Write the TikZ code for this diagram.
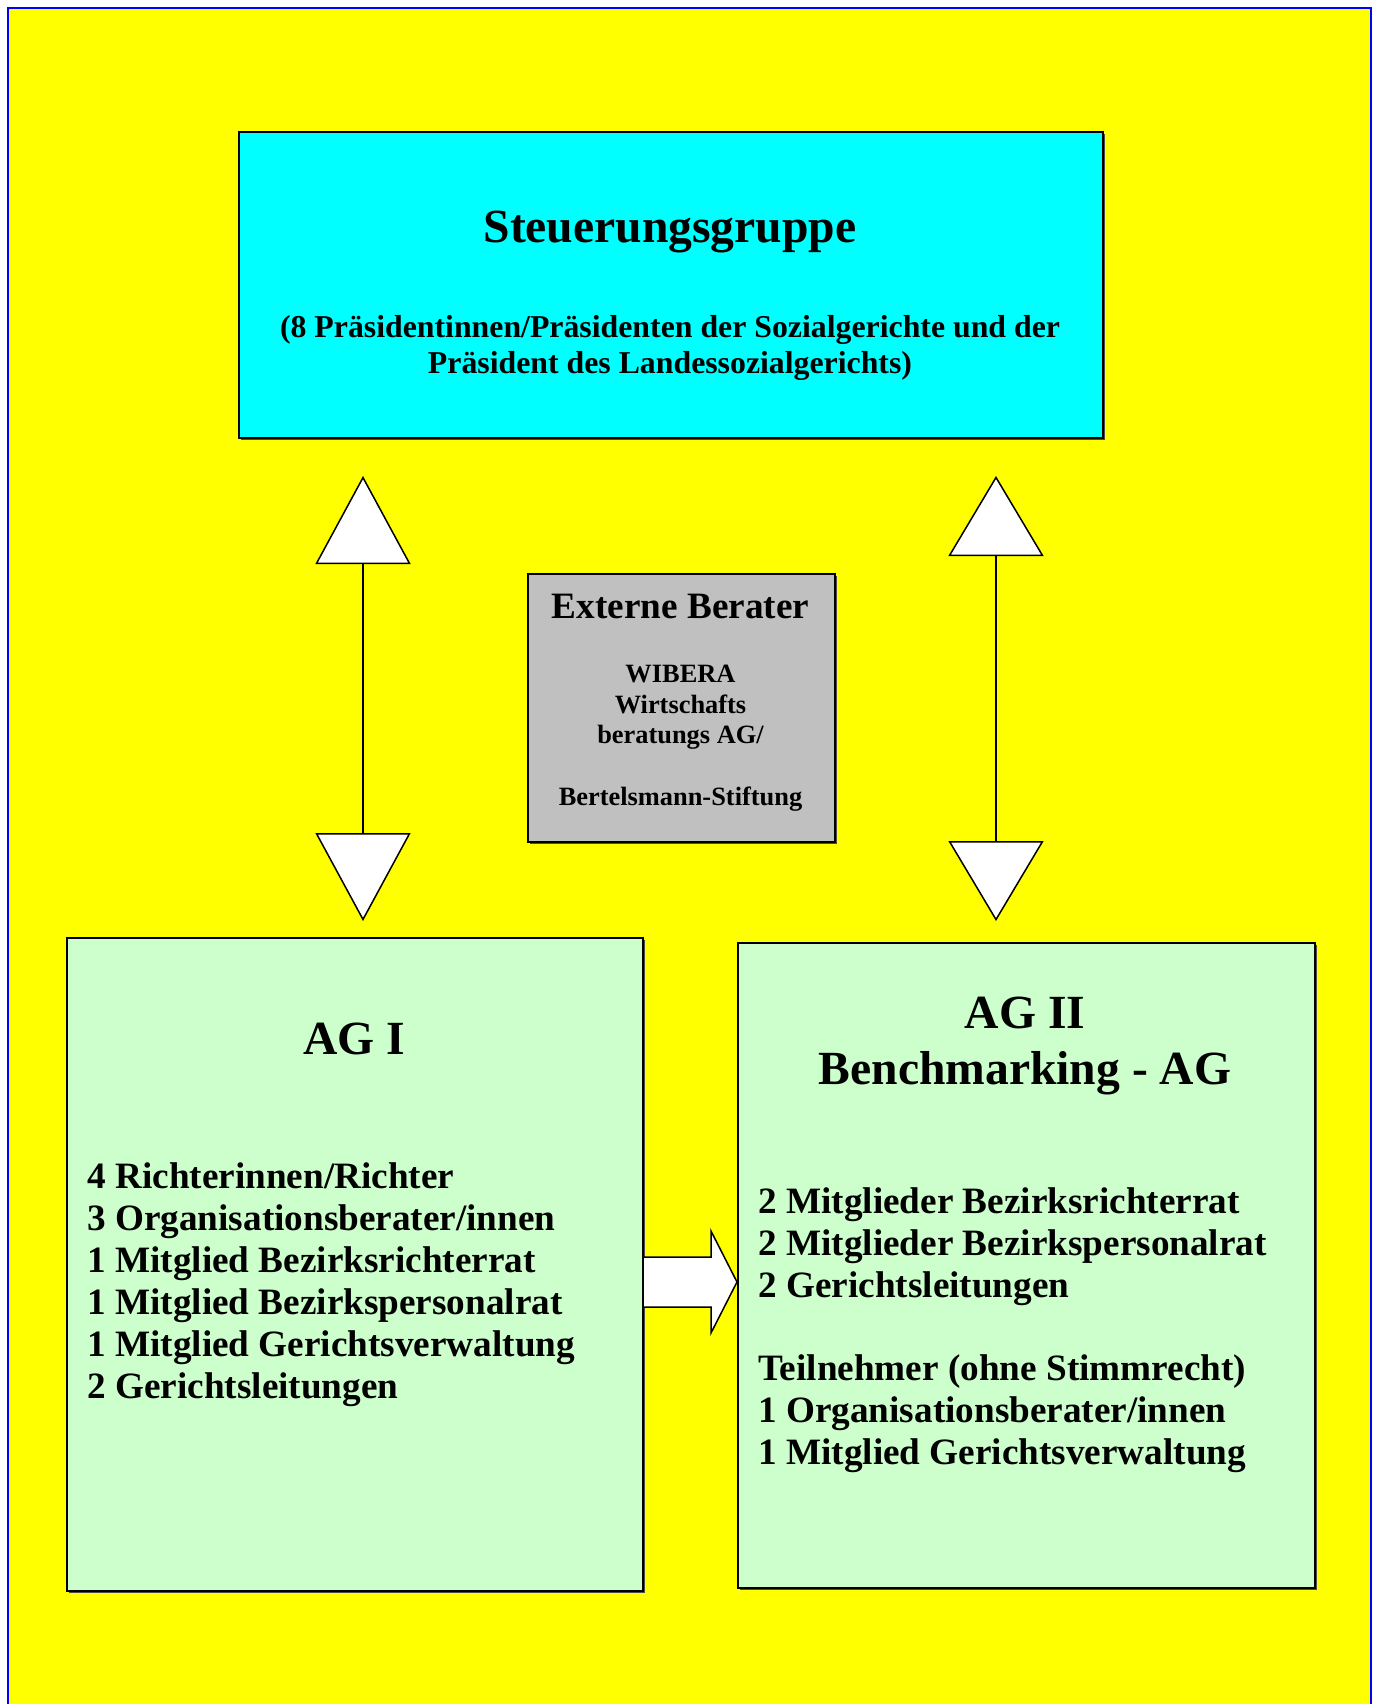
\documentclass[tikz,border=0pt]{standalone}
\usepackage{fontspec}
\setmainfont{Liberation Serif}
\usetikzlibrary{arrows.meta,calc,shadows}

\definecolor{bgyellow}{RGB}{255,255,0}
\definecolor{frameblue}{RGB}{0,0,255}
\definecolor{steuercyan}{RGB}{0,255,255}
\definecolor{beratergrey}{RGB}{192,192,192}
\definecolor{aggreen}{RGB}{204,255,204}

\begin{document}
\begin{tikzpicture}[x=0.5pt,y=-0.5pt,
  box/.style={draw, line width=1pt, inner sep=0pt, anchor=north west,
    drop shadow={shadow xshift=1pt, shadow yshift=-1pt, fill=black!70, opacity=1}},
  titletext/.style={anchor=base, inner sep=0pt, font=\fontsize{23.8}{27}\selectfont\bfseries},
  subtext/.style={anchor=base, inner sep=0pt, font=\fontsize{15.9}{18}\selectfont\bfseries},
  beratertitle/.style={anchor=base, inner sep=0pt, font=\fontsize{18.6}{21}\selectfont\bfseries},
  beratertext/.style={anchor=base, inner sep=0pt, font=\fontsize{13.2}{15}\selectfont\bfseries},
  listtext/.style={anchor=base west, inner sep=0pt, font=\fontsize{18.6}{21}\selectfont\bfseries},
  updown/.style={line width=0.75pt,
    {Triangle[length=#1,width=47.5pt,fill=white]}-{Triangle[length=#1,width=47.5pt,fill=white]}},
  blockarrow/.style={draw, line width=0.75pt, fill=white, line join=miter}]

  % --------- knobs ----------
  \def\W{1379}   % page width (px)
  \def\H{1704}   % page height (px)
  \def\lineskipAGI{42}  % baseline distance in the lists
  \def\lineskipAGII{42}
  % --------------------------

  \useasboundingbox (0,0) rectangle (\W,\H);
  \clip (0,0) rectangle (\W,\H);

  % Background with blue frame
  \fill[white] (0,0) rectangle (\W,\H);
  \fill[bgyellow] (8,8) rectangle (1371,1720);
  \draw[frameblue, line width=1pt] (8,1720) -- (8,8) -- (1371,8) -- (1371,1720);

  % ============== Steuerungsgruppe =================
  \node[box, fill=steuercyan, minimum width=432pt, minimum height=153pt] (steuer) at (238,131) {};
  \node[titletext] (steuer-title) at (670,242) {Steuerungsgruppe};
  \node[subtext] (steuer-sub1) at (670,337) {(8 Präsidentinnen/Präsidenten der Sozialgerichte und der};
  \node[subtext] (steuer-sub2) at (670,373) {Präsident des Landessozialgerichts)};

  % ============== Externe Berater =================
  \node[box, fill=beratergrey, minimum width=153.5pt, minimum height=134pt] (berater) at (527,573) {};
  \node[beratertitle] (berater-title) at (680.5,618) {Externe Berater};
  \node[beratertext] (berater-1) at (680.5,682) {WIBERA};
  \node[beratertext] (berater-2) at (680.5,713) {Wirtschafts};
  \node[beratertext] (berater-3) at (680.5,743) {beratungs AG/};
  \node[beratertext] (berater-4) at (680.5,805) {Bertelsmann-Stiftung};

  % ============== AG I =================
  \node[box, fill=aggreen, minimum width=288pt, minimum height=326.5pt] (agI) at (66,937) {};
  \node[titletext] (agI-title) at (354,1054) {AG I};
  \foreach \txt [count=\i] in {4 Richterinnen/Richter, 3 Organisationsberater/innen,
      1 Mitglied Bezirksrichterrat, 1 Mitglied Bezirkspersonalrat,
      1 Mitglied Gerichtsverwaltung, 2 Gerichtsleitungen}
    \node[listtext] (agI-\i) at (87,{1188+\lineskipAGI*(\i-1)}) {\txt};

  % ============== AG II =================
  \node[box, fill=aggreen, minimum width=288.5pt, minimum height=322.5pt] (agII) at (737,942) {};
  \node[titletext] (agII-title1) at (1025,1028) {AG II};
  \node[titletext] (agII-title2) at (1025,1084) {Benchmarking - AG};
  \foreach \txt [count=\i] in {2 Mitglieder Bezirksrichterrat, 2 Mitglieder Bezirkspersonalrat,
      2 Gerichtsleitungen}
    \node[listtext] (agII-a\i) at (758,{1213+\lineskipAGII*(\i-1)}) {\txt};
  \foreach \txt [count=\i] in {Teilnehmer (ohne Stimmrecht), 1 Organisationsberater/innen,
      1 Mitglied Gerichtsverwaltung}
    \node[listtext] (agII-b\i) at (758,{1380+\lineskipAGII*(\i-1)}) {\txt};

  % ============== Connectors =================
  \coordinate (lx) at (363,0);
  \coordinate (rx) at (996,0);
  \draw[updown=44pt, shorten <=18.5pt, shorten >=8pt] (steuer.south -| lx) -- (agI.north -| lx);
  \draw[updown=40pt, shorten <=18.5pt, shorten >=10.5pt] (steuer.south -| rx) -- (agII.north -| rx);

  % Block arrow AG I -> AG II
  \coordinate (shaftT) at (0,1257);
  \coordinate (shaftB) at (0,1307);
  \coordinate (mid) at (0,1282);
  \draw[blockarrow] (agI.east |- shaftT) -- (711,1257) -- (711,1231)
    -- (agII.west |- mid) -- (711,1333) -- (711,1307) -- (agI.east |- shaftB);

\end{tikzpicture}
\end{document}
